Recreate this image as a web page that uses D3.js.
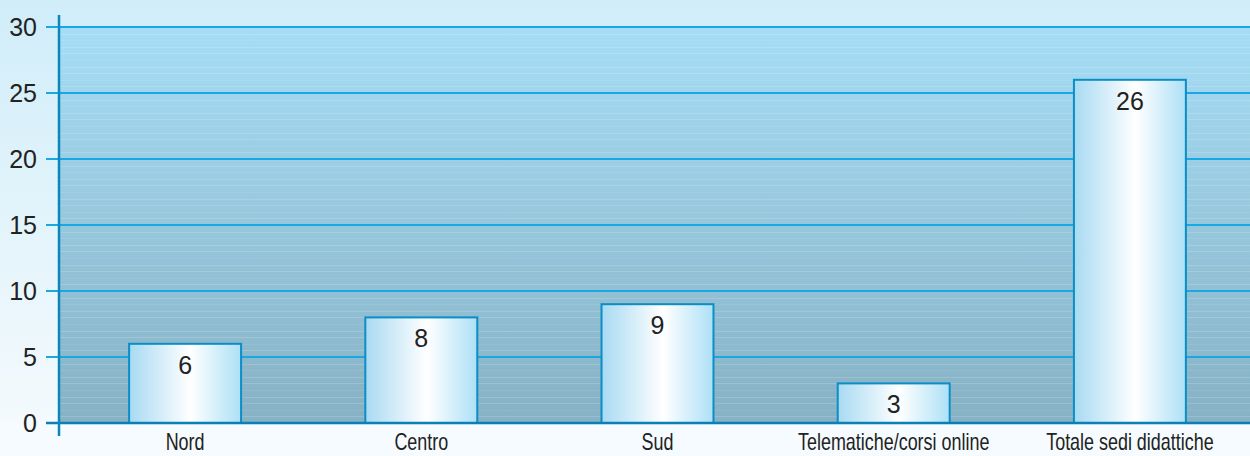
<!DOCTYPE html>
<html>
<head>
<meta charset="utf-8">
<script src="https://cdn.jsdelivr.net/npm/d3@7"></script>
<style>
  html, body { margin: 0; padding: 0; background: #f5fbfe; }
  svg { display: block; }
</style>
</head>
<body>
<svg id="chart" width="1250" height="456"></svg>
<script>
const categories = ["Nord", "Centro", "Sud", "Telematiche/corsi online", "Totale sedi didattiche"];
const values = [6, 8, 9, 3, 26];
const yTicks = [0, 5, 10, 15, 20, 25, 30];

const W = 1250, H = 456;
const svg = d3.select("#chart");
const defs = svg.append("defs");

const pageGrad = defs.append("linearGradient").attr("id", "pageGrad")
  .attr("x1", 0).attr("y1", 0).attr("x2", 0).attr("y2", 1);
pageGrad.append("stop").attr("offset", "0%").attr("stop-color", "#d0edf9");
pageGrad.append("stop").attr("offset", "100%").attr("stop-color", "#f4fafd");

const plotGrad = defs.append("linearGradient").attr("id", "plotGrad")
  .attr("x1", 0).attr("y1", 0).attr("x2", 0).attr("y2", 1);
plotGrad.append("stop").attr("offset", "0%").attr("stop-color", "#a6ddf6");
plotGrad.append("stop").attr("offset", "100%").attr("stop-color", "#87b1c4");

const barGrad = defs.append("linearGradient").attr("id", "barGrad")
  .attr("x1", 0).attr("y1", 0).attr("x2", 1).attr("y2", 0);
barGrad.append("stop").attr("offset", "0%").attr("stop-color", "#a8daf2");
barGrad.append("stop").attr("offset", "55%").attr("stop-color", "#ffffff");
barGrad.append("stop").attr("offset", "100%").attr("stop-color", "#ade0f6");

const axisX = 59;
const y = d3.scaleLinear().domain([0, 30]).range([423, 27]);
const x = d3.scaleBand().domain(categories).range([67, 1248])
  .paddingInner(0.526).paddingOuter(0.263);

// page background
svg.append("rect").attr("x", 0).attr("y", 0).attr("width", W).attr("height", y(0))
  .attr("fill", "url(#pageGrad)");
svg.append("rect").attr("x", 0).attr("y", y(0)).attr("width", W).attr("height", H - y(0))
  .attr("fill", "#f5fbfe");

// plot area
svg.append("rect").attr("x", axisX).attr("y", y(30)).attr("width", W - axisX)
  .attr("height", y(0) - y(30)).attr("fill", "url(#plotGrad)");

// faint stripes
const stripes = d3.range(0.5, 30, 0.5).filter(v => v % 5 !== 0);
svg.append("g").selectAll("line").data(stripes).join("line")
  .attr("x1", axisX).attr("x2", W)
  .attr("y1", d => Math.round(y(d)) + 0.5).attr("y2", d => Math.round(y(d)) + 0.5)
  .attr("stroke", "#ffffff").attr("stroke-opacity", (d, i) => (i % 3 === 1 ? 0.08 : 0.16))
  .attr("stroke-width", 1);

// gridlines + ticks
const grid = svg.append("g");
grid.selectAll("line").data(yTicks.filter(d => d > 0)).join("line")
  .attr("x1", 46).attr("x2", W)
  .attr("y1", d => y(d)).attr("y2", d => y(d))
  .attr("stroke", "#18a8e4").attr("stroke-width", 2);

// bars
svg.append("g").selectAll("rect").data(values).join("rect")
  .attr("x", (d, i) => x(categories[i]))
  .attr("y", d => y(d))
  .attr("width", x.bandwidth())
  .attr("height", d => y(0) - y(d))
  .attr("fill", "url(#barGrad)")
  .attr("stroke", "#0b8ec6").attr("stroke-width", 2);

// value labels
svg.append("g").selectAll("text").data(values).join("text")
  .attr("x", (d, i) => x(categories[i]) + x.bandwidth() / 2)
  .attr("y", d => y(d) + 30)
  .attr("text-anchor", "middle")
  .attr("font-family", "Liberation Sans, Arial, sans-serif")
  .attr("font-size", 25)
  .attr("fill", "#222")
  .text(d => d);

// x axis line
svg.append("line").attr("x1", 46).attr("x2", W).attr("y1", y(0)).attr("y2", y(0))
  .attr("stroke", "#0b80b8").attr("stroke-width", 2.5);

// y axis line
svg.append("line").attr("x1", axisX).attr("x2", axisX).attr("y1", 15).attr("y2", 436)
  .attr("stroke", "#0b86bd").attr("stroke-width", 2.5);

// y tick labels
svg.append("g").selectAll("text").data(yTicks).join("text")
  .attr("x", 37).attr("y", d => y(d)).attr("dy", "0.36em")
  .attr("text-anchor", "end")
  .attr("font-family", "Liberation Sans, Arial, sans-serif")
  .attr("font-size", 25)
  .attr("fill", "#222")
  .text(d => d);

// category labels (condensed)
svg.append("g").selectAll("text").data(categories).join("text")
  .attr("transform", d => `translate(${x(d) + x.bandwidth() / 2},450) scale(0.78,1)`)
  .attr("text-anchor", "middle")
  .attr("font-family", "Liberation Sans, Arial, sans-serif")
  .attr("font-size", 23)
  .attr("fill", "#222")
  .text(d => d);
</script>
</body>
</html>
